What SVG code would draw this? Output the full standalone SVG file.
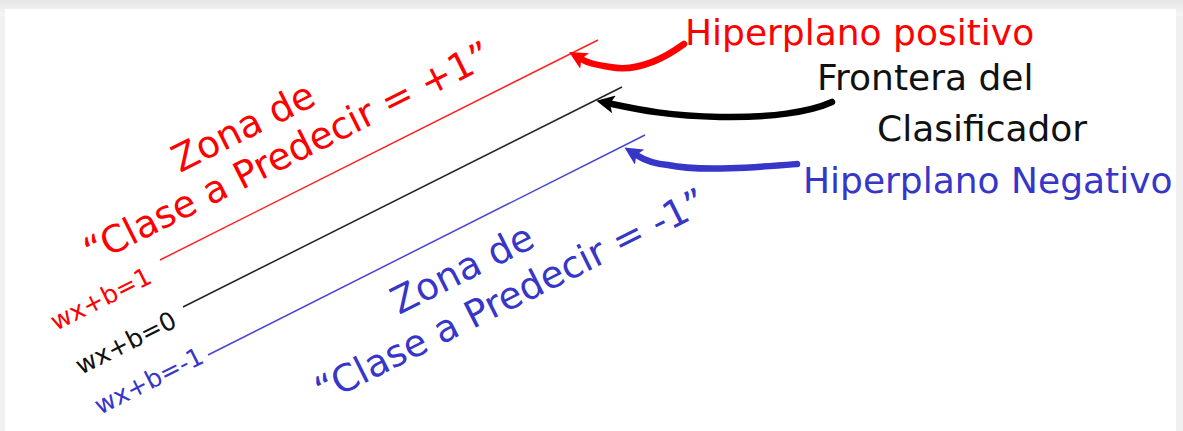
<svg xmlns="http://www.w3.org/2000/svg" width="1183" height="431" viewBox="0 0 1183 431">
<style>
text{font-family:"DejaVu Sans","Verdana",sans-serif;}
.big{font-size:36px;}
.rot{font-size:37.5px;}
.sm{font-size:25px;}
.red{fill:#ff0000;}
.blk{fill:#111111;}
.blu{fill:#3636c8;}
.hl{fill:none;stroke-width:1.5;}
.arr{fill:none;stroke-width:6.5;stroke-linecap:round;}
</style>
<defs>
<linearGradient id="topShade" x1="0" y1="0" x2="0" y2="1"><stop offset="0" stop-color="#e6e6e6"/><stop offset="1" stop-color="#f6f6f6"/></linearGradient>
<marker id="hR" markerUnits="userSpaceOnUse" viewBox="0 0 18 18" refX="2" refY="9" markerWidth="18" markerHeight="18" orient="auto"><path d="M0,0 L18,9 L0,18 L4,9 Z" fill="#ff0000"/></marker>
<marker id="hK" markerUnits="userSpaceOnUse" viewBox="0 0 18 18" refX="2" refY="9" markerWidth="18" markerHeight="18" orient="auto"><path d="M0,0 L18,9 L0,18 L4,9 Z" fill="#000000"/></marker>
<marker id="hB" markerUnits="userSpaceOnUse" viewBox="0 0 18 18" refX="2" refY="9" markerWidth="18" markerHeight="18" orient="auto"><path d="M0,0 L18,9 L0,18 L4,9 Z" fill="#3636c8"/></marker>
</defs>
<rect x="0" y="0" width="1183" height="431" fill="#f0f0f0"/>
<rect x="0" y="0" width="1183" height="16" fill="url(#topShade)"/>
<rect x="5" y="9" width="1171" height="422" fill="#ffffff"/>

<g id="hyperplanes">
<line id="line-pos" class="hl" x1="160" y1="260" x2="598" y2="40" stroke="#ff2020"/>
<line id="line-zero" class="hl" x1="183" y1="307" x2="622" y2="87" stroke="#222222"/>
<line id="line-neg" class="hl" x1="208" y1="355" x2="645" y2="135" stroke="#4646d0"/>
</g>

<g id="connectors">
<path class="arr" d="M684,44 C662,60 636,72 610,67 C598,65 590,64 583,60" stroke="#ff0000" marker-end="url(#hR)"/>
<path class="arr" d="M832,102 C810,112 770,118 720,117 C670,116 640,110 612,104" stroke="#000000" marker-end="url(#hK)"/>
<path class="arr" d="M797,164 C760,167 700,172 668,165 C656,164 646,161 638,156" stroke="#3636c8" marker-end="url(#hB)"/>
</g>

<g id="label-pos"><text class="big red" x="685" y="45">Hiperplano positivo</text></g>
<g id="label-frontera"><text class="big blk" x="817" y="90">Frontera del</text><text class="big blk" x="877" y="141">Clasificador</text></g>
<g id="label-neg"><text class="big blu" x="803" y="193">Hiperplano Negativo</text></g>

<g id="zone-pos">
<text class="rot red" transform="translate(180,173) rotate(-26.6)">Zona de</text>
<text class="rot red" transform="translate(92,265) rotate(-26.6)">“Clase a Predecir = +1”</text>
</g>
<g id="zone-neg">
<text class="rot blu" transform="translate(399,315) rotate(-26.6)">Zona de</text>
<text class="rot blu" transform="translate(323,404) rotate(-26.6)">“Clase a Predecir = -1”</text>
</g>

<g id="eq-labels">
<text class="sm red" transform="translate(56,331) rotate(-26.6)">wx+b=1</text>
<text class="sm blk" transform="translate(81,375) rotate(-26.6)">wx+b=0</text>
<text class="sm blu" transform="translate(100,415) rotate(-26.6)">wx+b=-1</text>
</g>
</svg>
